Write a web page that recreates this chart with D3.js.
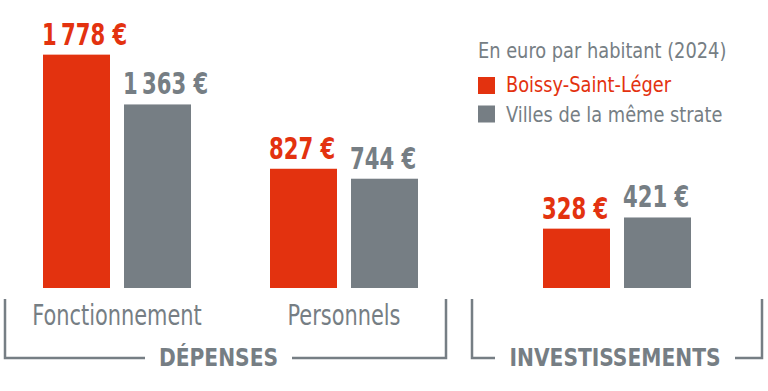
<!DOCTYPE html>
<html><head><meta charset="utf-8">
<script src="https://cdn.jsdelivr.net/npm/d3@7"></script>
<style>
html,body{margin:0;padding:0;background:#fff;}
svg{display:block;}
text{font-family:"Liberation Sans Narrow","DejaVu Sans Condensed",sans-serif;}
</style></head>
<body>
<svg id="chart" width="768" height="391"></svg>
<script>
const categories = ["Fonctionnement", "Personnels", "Investissements"];
const groups = ["DÉPENSES", "DÉPENSES", "INVESTISSEMENTS"];
const series = ["Boissy-Saint-Léger", "Villes de la même strate"];
const boissy = [1778, 827, 328];
const strate = [1363, 744, 421];
const legendTitle = "En euro par habitant (2024)";

const RED = "#e3320f", GRAY = "#767e84";
const svg = d3.select("#chart");
const baseY = 288;

const xGroup = d3.scaleOrdinal().domain(categories).range([117, 344, 617]);
const xInner = d3.scaleBand().domain(series).range([-74, 74]).paddingInner(0.173).paddingOuter(0);
const h = d3.scaleLinear().domain([0, 2000]).range([20, 260]);
const color = d3.scaleOrdinal().domain(series).range([RED, GRAY]);

const loc = d3.formatLocale({decimal: ",", thousands: "\u2009", grouping: [3], currency: ["", "\u00a0€"]});
const fmt = loc.format("$,d");

// helper: place text with horizontal condensing
function place(sel, fx, fy, sx) {
  return sel.attr("x", 0).attr("y", 0)
    .attr("transform", (d, i) => `translate(${fx(d, i)},${fy(d, i)}) scale(${sx},1)`);
}

const data = [];
categories.forEach((c, i) => {
  data.push({cat: c, s: series[0], v: boissy[i]});
  data.push({cat: c, s: series[1], v: strate[i]});
});

const g = svg.append("g");
g.selectAll("rect.bar").data(data).join("rect")
  .attr("class", "bar")
  .attr("x", d => xGroup(d.cat) + xInner(d.s))
  .attr("width", xInner.bandwidth())
  .attr("y", d => baseY - h(d.v))
  .attr("height", d => h(d.v))
  .attr("fill", d => color(d.s));

place(g.selectAll("text.val").data(data).join("text").attr("class", "val"),
      d => xGroup(d.cat) + xInner(d.s) - 1, d => baseY - h(d.v) - 10, 0.76)
  .attr("fill", d => color(d.s))
  .attr("font-size", 31)
  .attr("font-weight", "bold")
  .text(d => fmt(d.v));

// category labels (only for DÉPENSES subcategories)
place(g.selectAll("text.cat").data(categories.filter((c, i) => groups[i] === "DÉPENSES")).join("text").attr("class", "cat"),
      d => xGroup(d), () => 325, 0.83)
  .attr("text-anchor", "middle")
  .attr("fill", GRAY)
  .attr("font-size", 28)
  .text(d => d);

// group brackets
const brackets = [
  {label: "DÉPENSES", x0: 5, x1: 446, tx0: 160, tx1: 277, tc: 218.5},
  {label: "INVESTISSEMENTS", x0: 472, x1: 762, tx0: 510, tx1: 720, tc: 615}
];
const bg = svg.append("g");
brackets.forEach(b => {
  bg.append("path")
    .attr("d", `M${b.x0},299V358H${b.tx0 - 15}`)
    .attr("fill", "none").attr("stroke", GRAY).attr("stroke-width", 2.5);
  bg.append("path")
    .attr("d", `M${b.tx1 + 15},358H${b.x1}V299`)
    .attr("fill", "none").attr("stroke", GRAY).attr("stroke-width", 2.5);
  bg.append("text")
    .attr("transform", `translate(${b.tc},366) scale(0.9,1)`)
    .attr("text-anchor", "middle")
    .attr("fill", GRAY).attr("font-size", 25).attr("font-weight", "bold")
    .text(b.label);
});

// legend
const lg = svg.append("g");
lg.append("text").attr("transform", "translate(478,58) scale(0.9,1)").attr("fill", GRAY).attr("font-size", 22).text(legendTitle);
series.forEach((s, i) => {
  lg.append("rect").attr("x", 478).attr("y", 77 + i * 28.5).attr("width", 17).attr("height", 17).attr("fill", color(s));
  lg.append("text").attr("transform", `translate(506,${92 + i * 29.5}) scale(0.9,1)`).attr("fill", color(s)).attr("font-size", 22).text(s);
});
</script>
</body></html>
